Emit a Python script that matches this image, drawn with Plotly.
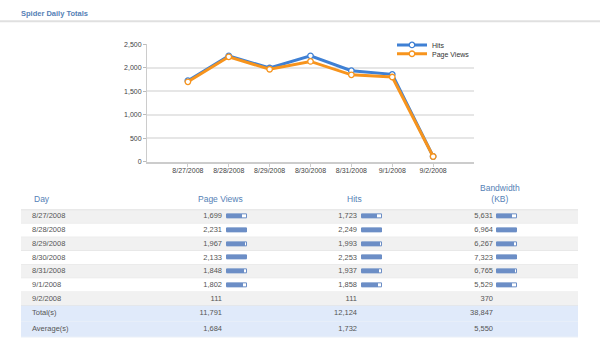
import plotly.graph_objects as go

# ---------------- data ----------------
days = ["8/27/2008", "8/28/2008", "8/29/2008", "8/30/2008", "8/31/2008", "9/1/2008", "9/2/2008"]
page_views = [1699, 2231, 1967, 2133, 1848, 1802, 111]
hits = [1723, 2249, 1993, 2253, 1937, 1858, 111]
bandwidth = [5631, 6964, 6267, 7323, 6765, 5529, 370]
summary_labels = ["Total(s)", "Average(s)"]
summary_page_views = [11791, 1684]
summary_hits = [12124, 1732]
summary_bandwidth = [38847, 5550]
y_ticks = [0, 500, 1000, 1500, 2000, 2500]

# ---------------- style ----------------
W, H = 600, 346
FONT = "Liberation Sans, Arial, sans-serif"
BLUE_HEAD = "#5581b6"
TXT = "#555555"
HITS_C = "#3f80d4"
PV_C = "#f7941d"
BAR_C = "#6c8ec6"

fig = go.Figure()

# ---------------- line chart ----------------
fig.add_trace(go.Scatter(
    x=days, y=hits, name="Hits", mode="lines+markers",
    line=dict(color=HITS_C, width=3),
    marker=dict(symbol="circle", size=5.5, color="white", line=dict(color=HITS_C, width=1.3)),
    xaxis="x", yaxis="y", legend="legend"))
fig.add_trace(go.Scatter(
    x=days, y=page_views, name="Page Views", mode="lines+markers",
    line=dict(color=PV_C, width=3),
    marker=dict(symbol="circle", size=5.5, color="white", line=dict(color=PV_C, width=1.3)),
    xaxis="x", yaxis="y", legend="legend2"))

# ---------------- table (pixel-like axes x2/y2) ----------------
T_LEFT, T_RIGHT = 21, 578
HEAD_BOTTOM = 210
ROW_H = 14
SUM_H = 16
DAY_X = 32
COLS = [  # (values, summary values, right edge of number, bar start)
    (page_views, summary_page_views, 222, 227),
    (hits, summary_hits, 357, 362),
    (bandwidth, summary_bandwidth, 493, 497),
]
BAR_W = 20
BAR_THICK = 4

shapes = []
row_centers = []
for i in range(len(days)):
    top = HEAD_BOTTOM + i * ROW_H
    row_centers.append(top + ROW_H / 2)
    shapes.append(dict(type="rect", xref="x2", yref="y2", x0=T_LEFT, x1=T_RIGHT,
                       y0=top, y1=top + ROW_H, layer="below",
                       fillcolor="#f1f1f1" if i % 2 == 0 else "#ffffff",
                       line=dict(width=0)))
    shapes.append(dict(type="line", xref="x2", yref="y2", x0=T_LEFT, x1=T_RIGHT,
                       y0=top + ROW_H, y1=top + ROW_H, layer="below",
                       line=dict(color="#e2e2e2", width=1)))
sum_top0 = HEAD_BOTTOM + len(days) * ROW_H
sum_centers = []
for j in range(len(summary_labels)):
    top = sum_top0 + j * SUM_H
    sum_centers.append(top + SUM_H / 2)
    shapes.append(dict(type="rect", xref="x2", yref="y2", x0=T_LEFT, x1=T_RIGHT,
                       y0=top, y1=top + SUM_H, layer="below",
                       fillcolor="#e0eafa", line=dict(width=0)))
    shapes.append(dict(type="line", xref="x2", yref="y2", x0=T_LEFT, x1=T_RIGHT,
                       y0=top + SUM_H, y1=top + SUM_H, layer="below",
                       line=dict(color="#eef2f8", width=1)))
# header bottom line
shapes.append(dict(type="line", xref="x2", yref="y2", x0=T_LEFT, x1=T_RIGHT,
                   y0=HEAD_BOTTOM, y1=HEAD_BOTTOM, line=dict(color="#e2e2e2", width=1)))
# title underline
shapes.append(dict(type="line", xref="paper", yref="paper", x0=0, x1=1,
                   y0=1 - 17.5 / H, y1=1 - 17.5 / H, line=dict(color="#e0e0e0", width=2)))

# day labels
fig.add_trace(go.Scatter(
    x=[DAY_X] * (len(days) + len(summary_labels)),
    y=row_centers + sum_centers,
    text=days + summary_labels, mode="text", textposition="middle right",
    textfont=dict(family=FONT, size=7.5, color=TXT),
    xaxis="x2", yaxis="y2", showlegend=False, hoverinfo="skip"))

for vals, svals, xr, bx in COLS:
    fig.add_trace(go.Scatter(
        x=[xr] * (len(vals) + len(svals)),
        y=row_centers + sum_centers,
        text=[f"{v:,}" for v in vals + svals], mode="text", textposition="middle left",
        textfont=dict(family=FONT, size=7.5, color=TXT),
        xaxis="x2", yaxis="y2", showlegend=False, hoverinfo="skip"))
    vmax = max(vals)
    idx = [k for k, v in enumerate(vals) if v / vmax >= 0.1]
    fig.add_trace(go.Bar(
        orientation="h", y=[row_centers[k] for k in idx], x=[BAR_W] * len(idx),
        base=[bx] * len(idx), width=BAR_THICK,
        marker=dict(color="white", line=dict(color=BAR_C, width=1)),
        xaxis="x2", yaxis="y2", showlegend=False, hoverinfo="skip"))
    fig.add_trace(go.Bar(
        orientation="h", y=[row_centers[k] for k in idx],
        x=[BAR_W * vals[k] / vmax for k in idx],
        base=[bx] * len(idx), width=BAR_THICK,
        marker=dict(color=BAR_C, line=dict(width=0)),
        xaxis="x2", yaxis="y2", showlegend=False, hoverinfo="skip"))

annotations = [
    dict(text="<b>Spider Daily Totals</b>", xref="paper", yref="paper",
         x=19 / W, y=1 - 10 / H, xanchor="left", yanchor="middle", showarrow=False,
         font=dict(family=FONT, size=7.5, color=BLUE_HEAD)),
    dict(text="Day", xref="x2", yref="y2", x=DAY_X, y=199, xanchor="left", yanchor="middle",
         showarrow=False, font=dict(family=FONT, size=8.5, color=BLUE_HEAD)),
    dict(text="Page Views", xref="x2", yref="y2", x=220, y=199, xanchor="center", yanchor="middle",
         showarrow=False, font=dict(family=FONT, size=8.5, color=BLUE_HEAD)),
    dict(text="Hits", xref="x2", yref="y2", x=354, y=199, xanchor="center", yanchor="middle",
         showarrow=False, font=dict(family=FONT, size=8.5, color=BLUE_HEAD)),
    dict(text="Bandwidth<br>(KB)", xref="x2", yref="y2", x=500, y=193.5, xanchor="center", yanchor="middle",
         showarrow=False, font=dict(family=FONT, size=8.5, color=BLUE_HEAD)),
]

leg_common = dict(xanchor="left", yanchor="top", bgcolor="rgba(0,0,0,0)",
                  font=dict(family=FONT, size=7, color="#333"), itemwidth=30)

fig.update_layout(
    width=W, height=H, margin=dict(l=0, r=0, t=0, b=0),
    paper_bgcolor="white", plot_bgcolor="rgba(0,0,0,0)",
    font=dict(family=FONT, size=7, color=TXT),
    barmode="overlay", bargap=0,
    showlegend=True,
    legend=dict(x=392 / W, y=1 - 27 / H, **leg_common),
    legend2=dict(x=392 / W, y=1 - 36 / H, **leg_common),
    xaxis=dict(domain=[147 / W, 474 / W], anchor="y", type="category",
               range=[-1, 7], showline=True, linecolor="#cccccc", linewidth=2,
               ticks="outside", ticklen=3, tickcolor="#cccccc", showgrid=False,
               ticklabelstandoff=-2,
               tickfont=dict(family=FONT, size=7, color="#444")),
    yaxis=dict(domain=[1 - 161 / H, 1 - 41 / H], anchor="x", range=[0, 2500],
               tickvals=y_ticks, tickformat=",", showline=True, linecolor="#cccccc",
               linewidth=1, ticks="outside", ticklen=3, tickcolor="#bbbbbb",
               gridcolor="#e6e6e6", gridwidth=1.5, zeroline=False,
               tickfont=dict(family=FONT, size=7, color="#444")),
    xaxis2=dict(domain=[0, 1], anchor="y2", range=[0, W], visible=False, fixedrange=True),
    yaxis2=dict(domain=[0, 166 / H], anchor="x2", range=[H, 180], visible=False, fixedrange=True),
    shapes=shapes, annotations=annotations,
)

fig.write_html("out.html")
